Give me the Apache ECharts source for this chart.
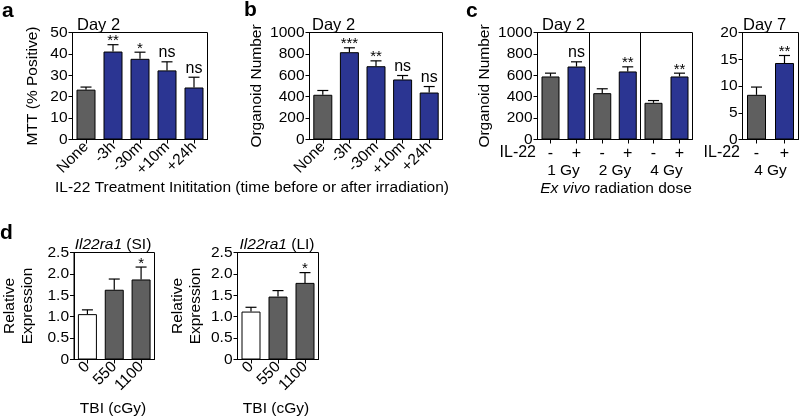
<!DOCTYPE html>
<html><head><meta charset="utf-8">
<script src="https://cdn.jsdelivr.net/npm/echarts@6/dist/echarts.min.js"></script>
<style>html,body{margin:0;padding:0;background:#fff}#c{width:800px;height:417px}</style>
</head><body><div id="c"></div>
<script>
// ---------- DATA ----------
// Panel a (MTT, Day 2)
const aCats = ['None', '-3h', '-30m', '+10m', '+24h'];
const aMean = [23.3, 41.1, 37.7, 32.3, 24.3];
const aErrTop = [24.5, 44.3, 40.8, 36.3, 29.1];
const aSig = ['', '**', '*', 'ns', 'ns'];
// Panel b (Organoid number, Day 2)
const bCats = ['None', '-3h', '-30m', '+10m', '+24h'];
const bMean = [418, 816, 685, 561, 439];
const bErrTop = [458, 857, 735, 598, 495];
const bSig = ['', '***', '**', 'ns', 'ns'];
// Panel c (Day 2), IL-22 - / + per dose
const cCats = ['-', '+'];
const cDoses = ['1 Gy', '2 Gy', '4 Gy'];
const c1Mean = [589, 682], c1ErrTop = [620, 726], c1Sig = ['', 'ns'];
const c2Mean = [433, 636], c2ErrTop = [474, 679], c2Sig = ['', '**'];
const c3Mean = [343, 589], c3ErrTop = [364, 620], c3Sig = ['', '**'];
// Panel c (Day 7, 4 Gy)
const c7Mean = [8.35, 14.3], c7ErrTop = [9.8, 15.7], c7Sig = ['', '**'];
// Panel d
const dCats = ['0', '550', '1100'];
const dSIMean = [1.06, 1.63, 1.87], dSIErrTop = [1.16, 1.88, 2.16], dSISig = ['', '', '*'];
const dLIMean = [1.12, 1.47, 1.79], dLIErrTop = [1.22, 1.61, 2.03], dLISig = ['', '', '*'];

// ---------- STYLE / BUILD ----------
const FONT = '"Liberation Sans", Arial, Helvetica, sans-serif';
const BLUE = '#2b3592', GRAY = '#5f5f5f', WHITE = '#ffffff';
const TICK_FS = 15.5, NAME_FS = 15.5;
const grids = [], xAxes = [], yAxes = [], series = [];

function addPanel(o) {
  const i = grids.length;
  const showY = o.yLabels !== false;
  grids.push({left: o.left, top: o.top, width: o.width, height: o.height, show: true,
    borderColor: '#000', borderWidth: 1, backgroundColor: 'transparent'});
  xAxes.push({gridIndex: i, type: 'category', data: o.cats,
    axisLine: {show: true, lineStyle: {color: '#000', width: 1}},
    axisTick: {show: true, alignWithLabel: true, length: 4, lineStyle: {color: '#000'}},
    axisLabel: Object.assign({interval: 0, color: '#000', fontFamily: FONT, fontSize: TICK_FS, margin: 6}, o.xLabel || {}),
    name: o.xName || '', nameLocation: 'middle', nameGap: o.xNameGap || 0,
    nameTextStyle: {color: '#000', fontFamily: FONT, fontSize: NAME_FS}});
  yAxes.push({gridIndex: i, type: 'value', min: o.min, max: o.max, interval: o.interval,
    axisLine: {show: showY, lineStyle: {color: '#000', width: 1}},
    axisTick: {show: showY, length: 4, lineStyle: {color: '#000'}},
    axisLabel: {show: showY, color: '#000', fontFamily: FONT, fontSize: TICK_FS, margin: 5,
      formatter: o.fmt || (v => String(v))},
    splitLine: {show: false},
    name: o.yName || '', nameLocation: 'middle', nameGap: o.yNameGap || 0, nameRotate: 90,
    nameTextStyle: {color: '#000', fontFamily: FONT, fontSize: NAME_FS, lineHeight: 18}});
  series.push({type: 'bar', xAxisIndex: i, yAxisIndex: i, barWidth: o.barWidth || 19,
    data: o.mean.map((v, k) => ({value: v, itemStyle: {color: o.colors[k], borderColor: '#000', borderWidth: 1}})),
    silent: true, animation: false});
  const sig = o.sig;
  series.push({type: 'custom', xAxisIndex: i, yAxisIndex: i, z: 5, animation: false, silent: true,
    data: o.mean.map((v, k) => [k, v, o.errTop[k]]),
    renderItem: function (params, api) {
      const p0 = api.coord([api.value(0), api.value(1)]);
      const p1 = api.coord([api.value(0), api.value(2)]);
      const cap = 5.5;
      const ch = [
        {type: 'line', shape: {x1: p0[0], y1: p0[1], x2: p1[0], y2: p1[1]}, style: {stroke: '#000', lineWidth: 1.2}},
        {type: 'line', shape: {x1: p1[0] - cap, y1: p1[1], x2: p1[0] + cap, y2: p1[1]}, style: {stroke: '#000', lineWidth: 1.2}}
      ];
      const s = sig[params.dataIndex];
      if (s) {
        const isNs = s === 'ns';
        ch.push({type: 'text', x: p1[0], y: isNs ? p1[1] - 1 : p1[1] + 4,
          style: {text: s, fill: '#000', font: (isNs ? 16 : 15) + 'px ' + FONT, align: 'center', verticalAlign: 'bottom'}});
      }
      return {type: 'group', children: ch};
    }});
}

const cw = [BLUE, BLUE, BLUE, BLUE];
addPanel({left: 72.5, top: 32.5, width: 135, height: 107, cats: aCats, mean: aMean, errTop: aErrTop, sig: aSig,
  colors: [GRAY].concat(cw), min: 0, max: 50, interval: 10, xLabel: {rotate: 45, margin: 5},
  yName: 'MTT (% Positive)', yNameGap: 31});
addPanel({left: 309.5, top: 32.5, width: 133, height: 107, cats: bCats, mean: bMean, errTop: bErrTop, sig: bSig,
  colors: [GRAY].concat(cw), min: 0, max: 1000, interval: 200, xLabel: {rotate: 45, margin: 5},
  yName: 'Organoid Number', yNameGap: 43});
const cSets = [[c1Mean, c1ErrTop, c1Sig], [c2Mean, c2ErrTop, c2Sig], [c3Mean, c3ErrTop, c3Sig]];
const cLefts = [537.5, 589.5, 640.5], cWidths = [52, 51, 52];
cSets.forEach((s, j) => addPanel({left: cLefts[j], top: 32.5, width: cWidths[j], height: 107, cats: cCats,
  mean: s[0], errTop: s[1], sig: s[2], colors: [GRAY, BLUE], min: 0, max: 1000, interval: 200,
  barWidth: 18, yLabels: j === 0, xLabel: {rotate: 0, margin: 6, fontSize: 16},
  xName: cDoses[j], xNameGap: 21,
  yName: j === 0 ? 'Organoid Number' : '', yNameGap: 40}));
addPanel({left: 742.5, top: 32.5, width: 56, height: 107, cats: cCats, mean: c7Mean, errTop: c7ErrTop, sig: c7Sig,
  colors: [GRAY, BLUE], min: 0, max: 20, interval: 5, xLabel: {rotate: 0, margin: 6, fontSize: 16},
  xName: '4 Gy', xNameGap: 21});
const dFmt = v => v === 0 ? '0' : v.toFixed(1);
addPanel({left: 73.5, top: 252.5, width: 81, height: 107, cats: dCats, mean: dSIMean, errTop: dSIErrTop, sig: dSISig,
  colors: [WHITE, GRAY, GRAY], min: 0, max: 2.5, interval: 0.5, fmt: dFmt, xLabel: {rotate: 45, margin: 5},
  yName: 'Relative\nExpression', yNameGap: 37});
addPanel({left: 237.5, top: 252.5, width: 81, height: 107, cats: dCats, mean: dLIMean, errTop: dLIErrTop, sig: dLISig,
  colors: [WHITE, GRAY, GRAY], min: 0, max: 2.5, interval: 0.5, fmt: dFmt, xLabel: {rotate: 45, margin: 5},
  yName: 'Relative\nExpression', yNameGap: 33});

function txt(x, y, text, size, extra) {
  return {type: 'text', x: x, y: y, silent: true,
    style: Object.assign({text: text, fill: '#000', font: size + 'px ' + FONT, align: 'left', verticalAlign: 'middle'}, extra || {})};
}
function richTxt(x, y, text) {
  return {type: 'text', x: x, y: y, silent: true, style: {text: text, fill: '#000',
    font: NAME_FS + 'px ' + FONT, align: 'center', verticalAlign: 'middle',
    rich: {i: {fontStyle: 'italic', fontSize: NAME_FS, fontFamily: FONT, fill: '#000'}}}};
}
const graphics = [
  txt(2, 11, 'a', 21, {font: 'bold 21px ' + FONT}),
  txt(244, 10, 'b', 21, {font: 'bold 21px ' + FONT}),
  txt(466, 11, 'c', 21, {font: 'bold 21px ' + FONT}),
  txt(0, 233, 'd', 21, {font: 'bold 21px ' + FONT}),
  txt(77, 25, 'Day 2', 16.5),
  txt(312, 25, 'Day 2', 16.5),
  txt(542, 25, 'Day 2', 16.5),
  txt(743, 25, 'Day 7', 16.5),
  txt(252, 188, 'IL-22 Treatment Inititation (time before or after irradiation)', NAME_FS, {align: 'center'}),
  txt(536, 153, 'IL-22', 16, {align: 'right'}),
  txt(740, 153, 'IL-22', 16, {align: 'right'}),
  richTxt(616, 189, '{i|Ex vivo} radiation dose'),
  richTxt(113, 245, '{i|Il22ra1} (SI)'),
  richTxt(277, 245, '{i|Il22ra1} (LI)'),
  txt(113, 409, 'TBI (cGy)', NAME_FS, {align: 'center'}),
  txt(276, 409, 'TBI (cGy)', NAME_FS, {align: 'center'})
];

const chart = echarts.init(document.getElementById('c'), null, {renderer: 'canvas'});
chart.setOption({
  backgroundColor: '#fff',
  animation: false,
  grid: grids, xAxis: xAxes, yAxis: yAxes, series: series,
  graphic: graphics
});
</script>
</body></html>
